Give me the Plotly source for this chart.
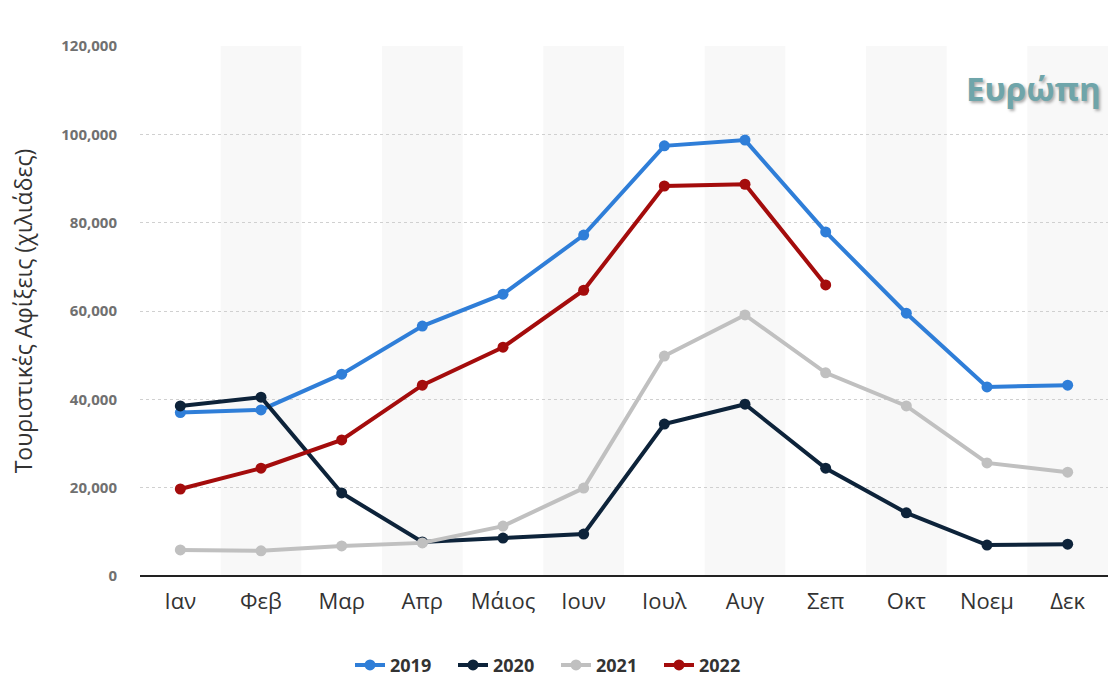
import plotly.graph_objects as go

months = ["Ιαν", "Φεβ", "Μαρ", "Απρ", "Μάιος", "Ιουν", "Ιουλ", "Αυγ", "Σεπ", "Οκτ", "Νοεμ", "Δεκ"]
y2019 = [37000, 37600, 45700, 56600, 63800, 77200, 97400, 98700, 77900, 59500, 42800, 43200]
y2020 = [38500, 40500, 18800, 7700, 8600, 9500, 34400, 38900, 24400, 14300, 7000, 7200]
y2021 = [5900, 5700, 6800, 7500, 11300, 19900, 49800, 59100, 46000, 38500, 25600, 23500]
y2022 = [19700, 24400, 30800, 43200, 51800, 64700, 88300, 88700, 65900]

series = [
    ("2019", y2019, "#2f7ed8"),
    ("2020", y2020, "#0d233a"),
    ("2021", y2021, "#c0c0c0"),
    ("2022", y2022, "#a40c0c"),
]

fig = go.Figure()
xs = list(range(len(months)))
for name, vals, col in series:
    fig.add_trace(go.Scatter(
        x=xs[:len(vals)], y=vals, name=name, mode="lines+markers",
        line=dict(color=col, width=4),
        marker=dict(color=col, size=11),
    ))

shapes = []
for i in range(1, len(months), 2):
    shapes.append(dict(type="rect", xref="x", yref="paper", x0=i - 0.5, x1=i + 0.5,
                       y0=0, y1=1, fillcolor="#f8f8f8", line=dict(width=0), layer="below"))

fig.update_layout(
    width=1112, height=676,
    margin=dict(l=140, r=4, t=46, b=100),
    plot_bgcolor="white", paper_bgcolor="white",
    shapes=shapes,
    showlegend=True,
    legend=dict(orientation="h", xref="container", yref="container", x=0.5, xanchor="center",
                y=0.016, yanchor="middle",
                font=dict(family="Open Sans", size=18, color="#333333", weight="bold"),
                itemwidth=30, entrywidth=58, entrywidthmode="pixels"),
    annotations=[dict(text="Ευρώπη", xref="paper", yref="paper", x=0.995, y=0.92,
                      xanchor="right", yanchor="middle", showarrow=False,
                      font=dict(family="Open Sans", size=33, color="#6fa5aa", weight="bold",
                                shadow="2px 2px 3px #aaaaaa"))],
)

fig.update_xaxes(
    tickmode="array", tickvals=xs, ticktext=months, range=[-0.5, 11.5],
    showgrid=False, zeroline=False, showline=False, ticks="",
    tickfont=dict(family="Open Sans", size=22, color="#333333"),
    ticklabelstandoff=10,
)
fig.update_yaxes(
    range=[0, 120000], tickvals=[0, 20000, 40000, 60000, 80000, 100000, 120000],
    tickformat=",", showgrid=True, gridcolor="#d0d0d0", griddash="dot", gridwidth=1,
    zeroline=True, zerolinecolor="#222222", zerolinewidth=2,
    tickfont=dict(family="Open Sans", size=15, color="#707070", weight="bold"),
    ticklabelstandoff=22,
    title=dict(text="Τουριστικές Αφίξεις (χιλιάδες)",
               font=dict(family="Open Sans", size=23, color="#333333"), standoff=22),
)

fig.write_html("out.html", post_script="document.body.style.margin='0';",
               config={"displayModeBar": False})
